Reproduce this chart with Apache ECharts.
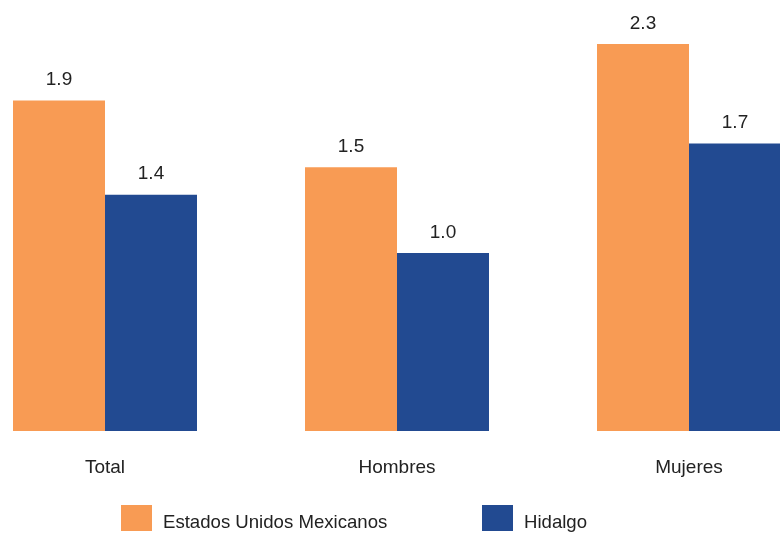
<!DOCTYPE html>
<html><head><meta charset="utf-8">
<script src="https://cdn.jsdelivr.net/npm/echarts@6/dist/echarts.min.js"></script>
<style>html,body{margin:0;padding:0;background:#fff}#c{width:780px;height:533px}</style>
</head><body><div id="c"></div>
<script>
const categories = ['Total', 'Hombres', 'Mujeres'];
const seriesNames = ['Estados Unidos Mexicanos', 'Hidalgo'];
const mexicoValues = [1.93, 1.54, 2.26];
const hidalgoValues = [1.38, 1.04, 1.68];
const colors = ['#F89B54', '#224A91'];

const chart = echarts.init(document.getElementById('c'));
const FONT = 'Liberation Sans, Arial, sans-serif';
const labelCfg = {
  show: true, position: 'top', distance: 11,
  color: '#222', fontSize: 19, fontFamily: FONT,
  formatter: p => p.value.toFixed(1)
};
const legendText = {
  color: '#222', fontSize: 18.6, fontFamily: FONT, padding: [0,0,0,6],
  rich: {a: {color: '#222', fontSize: 18.6, fontFamily: FONT, padding: [9,0,0,0]}}
};
chart.setOption({
  animation: false,
  grid: {left: 105, width: 584, top: 3, bottom: 102},
  xAxis: {
    type: 'category', data: categories, boundaryGap: false,
    axisLine: {show: false}, axisTick: {show: false}, splitLine: {show: false},
    axisLabel: {color: '#222', fontSize: 19, margin: 27, fontFamily: FONT}
  },
  yAxis: {type: 'value', min: 0, max: 2.5, show: false, splitLine: {show: false}},
  legend: [
    {data: [seriesNames[0]], left: 121, top: 505, padding: 0, itemWidth: 31, itemHeight: 26, icon: 'rect', textStyle: legendText, formatter: '{a|{name}}'},
    {data: [seriesNames[1]], left: 482, top: 505, padding: 0, itemWidth: 31, itemHeight: 26, icon: 'rect', textStyle: legendText, formatter: '{a|{name}}'}
  ],
  series: [
    {name: seriesNames[0], type: 'bar', clip: false, data: mexicoValues, barWidth: 92, barGap: '0%', itemStyle: {color: colors[0]}, label: labelCfg},
    {name: seriesNames[1], type: 'bar', clip: false, data: hidalgoValues, barWidth: 92, barGap: '0%', itemStyle: {color: colors[1]}, label: labelCfg}
  ]
});
</script></body></html>
